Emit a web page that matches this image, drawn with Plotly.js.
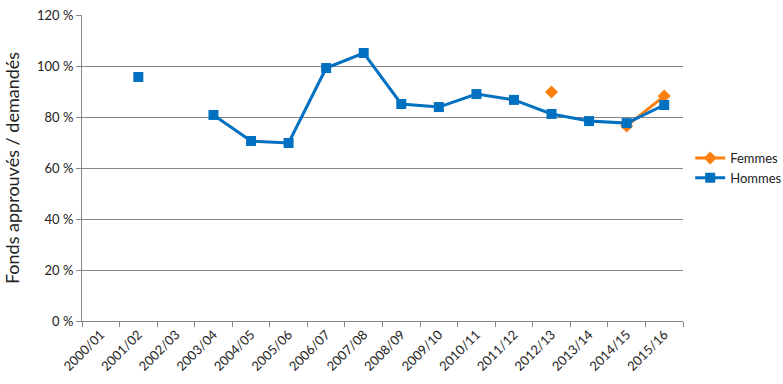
<!DOCTYPE html>
<html>
<head>
<meta charset="utf-8">
<script src="https://cdn.plot.ly/plotly-3.0.1.min.js"></script>
<style>html,body{margin:0;padding:0;background:#fff;}#chart{width:783px;height:384px;}</style>
</head>
<body>
<div id="chart"></div>
<script>
const categories = ["2000/01","2001/02","2002/03","2003/04","2004/05","2005/06","2006/07","2007/08","2008/09","2009/10","2010/11","2011/12","2012/13","2013/14","2014/15","2015/16"];
const femmes = [null,null,null,null,null,null,null,null,null,null,null,null,89.8,null,76.5,88.2];
const hommes = [null,95.7,null,80.8,70.6,69.8,99.2,105.1,85.1,83.9,89.0,86.7,81.2,78.4,77.6,84.7];
const yTicks = [0,20,40,60,80,100,120];
const yTickLabels = ["0 %","20 %","40 %","60 %","80 %","100 %","120 %"];

const font = "Lato, 'Open Sans', 'Liberation Sans', sans-serif";
const traces = [
  {x: categories, y: femmes, name: "Femmes", type: "scatter", mode: "lines+markers", connectgaps: false,
   line: {color: "#FF7F0E", width: 3}, marker: {symbol: "diamond", size: 10, color: "#FF7F0E"}},
  {x: categories, y: hommes, name: "Hommes", type: "scatter", mode: "lines+markers", connectgaps: false,
   line: {color: "#0070C0", width: 3}, marker: {symbol: "square", size: 10, color: "#0070C0"}}
];
const layout = {
  width: 783, height: 384,
  margin: {l: 82, r: 100, t: 15, b: 63, autoexpand: false},
  paper_bgcolor: "#fff", plot_bgcolor: "#fff",
  font: {family: font, size: 13, color: "#222"},
  showlegend: true,
  legend: {x: 1.012, y: 0.5, xanchor: "left", yanchor: "middle", itemwidth: 30, font: {size: 13, color: "#222"}, tracegroupgap: 8, bgcolor: "rgba(0,0,0,0)"},
  xaxis: {type: "category", categoryorder: "array", categoryarray: categories, range: [-0.5, 15.5],
    tickson: "boundaries", ticks: "outside", ticklen: 5, tickcolor: "#868686",
    showline: true, linecolor: "#868686", linewidth: 1, showgrid: false, zeroline: false,
    tickangle: -45, tickfont: {size: 13, color: "#222"}, automargin: false, fixedrange: true},
  yaxis: {range: [0, 120], tickmode: "array", tickvals: yTicks, ticktext: yTickLabels, showgrid: true, gridcolor: "#868686", gridwidth: 1,
    showline: true, linecolor: "#868686", ticks: "outside", ticklen: 5, tickcolor: "#868686", zeroline: false,
    tickfont: {size: 13, color: "#222"}, automargin: false,
    title: {text: "Fonds approuvés / demandés", font: {size: 18, color: "#222"}, standoff: 12}, fixedrange: true}
};
Plotly.newPlot("chart", traces, layout, {displayModeBar: false, staticPlot: true});
</script>
</body>
</html>
